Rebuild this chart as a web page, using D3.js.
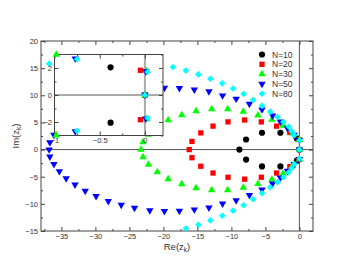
<!DOCTYPE html>
<html>
<head>
<meta charset="utf-8">
<script src="https://cdn.jsdelivr.net/npm/d3@7"></script>
<style>
body { margin: 0; background: #fff; }
text { font-family: "Liberation Sans", Arial, sans-serif; fill: #333; }
</style>
</head>
<body>
<div id="chart"></div>
<script>
// zeros z_k, one pair of arrays per N
const labels = ["N=10", "N=20", "N=30", "N=50", "N=80"];
const colors = ["#000000", "#ff0000", "#00ff00", "#0000ff", "#00ffff"];

const re10 = [0, -0.38, -0.38, -2.79, -2.79, -5.5, -5.5, -7.84, -7.84, -8.82];
const im10 = [0, 2.05, -2.05, 3.1, -3.1, 3.1, -3.1, 1.85, -1.85, 0];

const re20 = [0, -0.05, -0.05, -1.4, -1.4, -3.35, -3.35, -5.6, -5.6, -8.05, -8.05,
  -10.5, -10.5, -12.7, -12.7, -14.5, -14.5, -15.8, -15.8, -16.2];
const im20 = [0, 1.83, -1.83, 3.15, -3.15, 4.32, -4.32, 5.1, -5.1, 5.45, -5.45,
  5.1, -5.1, 4.32, -4.32, 3.07, -3.07, 1.5, -1.5, 0];

const re30 = [0, 0.02, 0.02, -0.98, -0.98, -2.4, -2.4, -4.05, -4.05, -6.1, -6.1,
  -8.25, -8.25, -10.55, -10.55, -12.9, -12.9, -15.2, -15.2, -17.3, -17.3,
  -19.3, -19.3, -20.9, -20.9, -22.2, -22.2, -23.0, -23.0, -23.3];
const im30 = [0, 1.78, -1.78, 2.99, -2.99, 4.42, -4.42, 5.5, -5.5, 6.3, -6.3,
  7.0, -7.0, 7.45, -7.45, 7.45, -7.45, 7.1, -7.1, 6.35, -6.35,
  5.45, -5.45, 4.15, -4.15, 2.76, -2.76, 1.38, -1.38, 0];

const re50 = [0, 0.01, 0.01, -0.77, -0.77, -1.75, -1.75, -2.8, -2.8, -3.95, -3.95,
  -5.5, -5.5, -7.35, -7.35, -9.3, -9.3, -11.3, -11.3, -13.3, -13.3,
  -15.45, -15.45, -17.65, -17.65, -19.85, -19.85, -22.0, -22.0, -24.25, -24.25,
  -26.2, -26.2, -28.1, -28.1, -29.9, -29.9, -31.5, -31.5, -33.0, -33.0,
  -34.3, -34.3, -35.3, -35.3, -36.1, -36.1, -36.7, -36.7, -36.8];
const im50 = [0, 1.75, -1.75, 2.7, -2.7, 3.95, -3.95, 5.15, -5.15, 6.26, -6.26,
  7.37, -7.37, 8.4, -8.4, 9.35, -9.35, 9.95, -9.95, 10.7, -10.7,
  11.05, -11.05, 11.3, -11.3, 11.35, -11.35, 11.2, -11.2, 10.75, -10.75,
  10.2, -10.2, 9.5, -9.5, 8.6, -8.6, 7.6, -7.6, 6.45, -6.45,
  5.3, -5.3, 4.0, -4.0, 2.7, -2.7, 1.3, -1.3, 0];

const re80 = [0, 0.03, 0.03, -0.75, -0.75, -1.15, -1.15, -1.56, -1.56, -2.35, -2.35,
  -3.2, -3.2, -4.3, -4.3, -5.5, -5.5, -6.8, -6.8, -8.2, -8.2,
  -9.75, -9.75, -11.35, -11.35, -13.1, -13.1, -14.85, -14.85, -16.7, -16.7,
  -18.6, -18.6, -36.8, -36.8];
const im80 = [0, 1.7, -1.7, 2.65, -2.65, 3.4, -3.4, 4.2, -4.2, 5.1, -5.1,
  6.0, -6.0, 6.95, -6.95, 8.05, -8.05, 9.15, -9.15, 10.25, -10.25,
  11.25, -11.25, 12.2, -12.2, 13.05, -13.05, 13.85, -13.85, 14.55, -14.55,
  15.2, -15.2, 15.8, -15.8];

const reAll = [re10, re20, re30, re50, re80];
const imAll = [im10, im20, im30, im50, im80];

const mainXTicks = [-35, -30, -25, -20, -15, -10, -5, 0];
const mainYTicks = [-15, -10, -5, 0, 5, 10, 15, 20];
const insetXTicks = [-1, -0.5, 0];
const insetYTicks = [-2, 0, 2];

const W = 352, H = 272;
const svg = d3.select("#chart").append("svg").attr("width", W).attr("height", H);

const frame = { left: 41, right: 313, top: 41, bottom: 231 };
const inset = { left: 54.5, right: 163, top: 54.5, bottom: 135.5 };

const x = d3.scaleLinear().domain([-38, 2]).range([frame.left, frame.right]);
const y = d3.scaleLinear().domain([-15, 20]).range([frame.bottom, frame.top]);
const xi = d3.scaleLinear().domain([-1, 0.2]).range([inset.left, inset.right]);
const yi = d3.scaleLinear().domain([-3, 3]).range([inset.bottom, inset.top]);

const downTriangle = {
  draw(ctx, size) {
    const s = Math.sqrt(size * 4 / Math.sqrt(3));
    const h = s * Math.sqrt(3) / 2;
    ctx.moveTo(-s / 2, -h / 3);
    ctx.lineTo(s / 2, -h / 3);
    ctx.lineTo(0, 2 * h / 3);
    ctx.closePath();
  }
};
const diamond = {
  draw(ctx, size) {
    const r = Math.sqrt(size / 2);
    ctx.moveTo(0, -r); ctx.lineTo(r, 0); ctx.lineTo(0, r); ctx.lineTo(-r, 0); ctx.closePath();
  }
};
const symbols = [
  d3.symbol(d3.symbolCircle, 30),
  d3.symbol(d3.symbolSquare, 28),
  d3.symbol(d3.symbolTriangle, 24),
  d3.symbol(downTriangle, 24),
  d3.symbol(diamond, 22)
];

function points(i) {
  return reAll[i].map((r, k) => ({ re: r, im: imAll[i][k] }));
}

function drawAxes(g, sx, sy, xt, yt, xMinor, yMinor, fmtX, fmtY, pad) {
  const [x0, x1] = sx.range();
  const [y0, y1] = sy.range();
  const axes = [
    [d3.axisBottom, sx, `translate(0,${y0})`, xt, xMinor, fmtX],
    [d3.axisTop, sx, `translate(0,${y1})`, xt, xMinor, null],
    [d3.axisLeft, sy, `translate(${x0},0)`, yt, yMinor, fmtY],
    [d3.axisRight, sy, `translate(${x1},0)`, yt, yMinor, null]
  ];
  axes.forEach(([mk, sc, tr, major, minor, fmt]) => {
    const a = g.append("g").attr("transform", tr)
      .call(mk(sc).tickValues(major).tickSize(-4).tickPadding(pad)
        .tickFormat(fmt ? fmt : () => ""));
    a.select(".domain").remove();
    a.selectAll("line").attr("stroke", "#444");
    a.selectAll("text").attr("font-size", 7.5).attr("fill", "#333")
      .attr("font-family", "Liberation Sans, Arial, sans-serif");
    const m = g.append("g").attr("transform", tr)
      .call(mk(sc).tickValues(minor).tickSize(-2).tickFormat(() => ""));
    m.select(".domain").remove();
    m.selectAll("line").attr("stroke", "#444");
  });
  g.append("rect")
    .attr("x", x0).attr("y", y1).attr("width", x1 - x0).attr("height", y0 - y1)
    .attr("fill", "none").attr("stroke", "#444").attr("stroke-width", 1);
}

// main plot
const main = svg.append("g");
main.append("line")
  .attr("x1", frame.left).attr("x2", frame.right).attr("y1", y(0)).attr("y2", y(0))
  .attr("stroke", "#555");
main.append("line")
  .attr("x1", x(0)).attr("x2", x(0)).attr("y1", frame.top).attr("y2", frame.bottom)
  .attr("stroke", "#555");

drawAxes(main, x, y, mainXTicks, mainYTicks,
  d3.range(-37.5, 2.5, 5), d3.range(-12.5, 20, 5),
  d3.format("d"), d3.format("d"), 3);

labels.forEach((lab, i) => {
  main.append("g").selectAll("path")
    .data(points(i).filter(p => p.re >= -38 && p.re <= 2 && p.im >= -15 && p.im <= 20))
    .join("path")
    .attr("d", symbols[i])
    .attr("transform", p => `translate(${x(p.re)},${y(p.im)})`)
    .attr("fill", colors[i]);
});

// inset
const ins = svg.append("g");
ins.append("rect")
  .attr("x", inset.left).attr("y", inset.top)
  .attr("width", inset.right - inset.left).attr("height", inset.bottom - inset.top)
  .attr("fill", "#fff");
ins.append("line")
  .attr("x1", xi(0)).attr("x2", xi(0)).attr("y1", inset.top).attr("y2", inset.bottom)
  .attr("stroke", "#aaa").attr("stroke-width", 2);
ins.append("line")
  .attr("x1", inset.left).attr("x2", inset.right).attr("y1", yi(0)).attr("y2", yi(0))
  .attr("stroke", "#555");

drawAxes(ins, xi, yi, insetXTicks, insetYTicks,
  [-0.75, -0.25], [-3, -1, 1, 3],
  d3.format("~g"), d3.format("d"), 2.5);

labels.forEach((lab, i) => {
  ins.append("g").selectAll("path")
    .data(points(i).filter(p => p.re >= -1.02 && p.re <= 0.2 && p.im >= -3.02 && p.im <= 3.02))
    .join("path")
    .attr("d", symbols[i])
    .attr("transform", p => `translate(${xi(p.re)},${yi(p.im)})`)
    .attr("fill", colors[i]);
});

// legend
const legend = svg.append("g");
labels.forEach((lab, i) => {
  const ly = 54.5 + i * 9.8;
  legend.append("path").attr("d", symbols[i])
    .attr("transform", `translate(262,${ly})`).attr("fill", colors[i]);
  legend.append("text").attr("x", 272).attr("y", ly + 3)
    .attr("font-size", 8.5).text(lab);
});

// axis titles
const xt = svg.append("text").attr("x", 177).attr("y", 250)
  .attr("text-anchor", "middle").attr("font-size", 9.5);
xt.append("tspan").text("Re(z");
xt.append("tspan").attr("font-size", 6.5).attr("dy", 2).text("k");
xt.append("tspan").attr("dy", -2).text(")");

const yt = svg.append("text")
  .attr("transform", "translate(19,136) rotate(-90)")
  .attr("text-anchor", "middle").attr("font-size", 9.5);
yt.append("tspan").text("Im(z");
yt.append("tspan").attr("font-size", 6.5).attr("dy", 2).text("k");
yt.append("tspan").attr("dy", -2).text(")");
</script>
</body>
</html>
